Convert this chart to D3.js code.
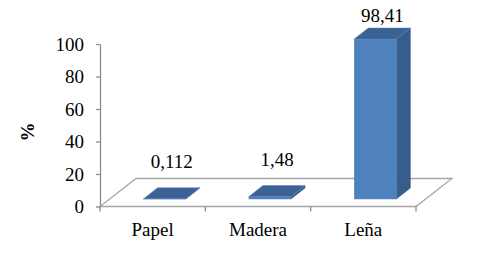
<!DOCTYPE html>
<html><head><meta charset="utf-8">
<script src="https://cdn.jsdelivr.net/npm/d3@7"></script>
<style>
html,body{margin:0;padding:0;background:#fff;}
svg{display:block;}
</style></head>
<body>
<svg id="c" width="486" height="259"></svg>
<script>
const categories = ["Papel", "Madera", "Leña"];
const values = [0.112, 1.48, 98.41];
const valueLabels = ["0,112", "1,48", "98,41"];
const yTicks = [0, 20, 40, 60, 80, 100];

const FONT = '"Liberation Serif"';
const FS = 19;
const svg = d3.select("#c");
const x0 = 100, x1 = 416, yBase = 206.5, yTop = 44;
const depth = {dx: 36, dy: -28};
const barFront = {dx: 12, dy: -7.5};
const barDepth = {dx: 14, dy: -11};

const x = d3.scaleBand().domain(categories).range([x0, x1]).paddingInner(0.6).paddingOuter(0.3);
const y = d3.scaleLinear().domain([0, 100]).range([yBase, yTop]);

// floor
svg.append("path")
  .attr("d", `M${x0},${yBase}L${x1},${yBase}L${x1+depth.dx},${yBase+depth.dy}L${x0+depth.dx},${yBase+depth.dy}Z`)
  .attr("fill", "#fff").attr("stroke", "#a6a6a6").attr("stroke-width", 1.3);

// y axis
const yAxis = svg.append("g").attr("transform", `translate(${x0},0)`)
  .call(d3.axisLeft(y).tickValues(yTicks).tickSize(4).tickSizeOuter(0).tickPadding(12));
yAxis.attr("font-family", null);
yAxis.select(".domain").attr("stroke", "#8c8c8c").attr("stroke-width", 1.3);
yAxis.selectAll(".tick line").attr("stroke", "#8c8c8c").attr("stroke-width", 1.3);
yAxis.selectAll(".tick text").attr("font-size", FS).style("font-family", FONT).attr("fill", "#000");

// x axis ticks at boundaries
const bounds = d3.range(categories.length + 1).map(i => x0 + i * (x1 - x0) / categories.length);
svg.append("g").selectAll("line").data(bounds).join("line")
  .attr("x1", d => d).attr("x2", d => d).attr("y1", yBase).attr("y2", yBase + 5)
  .attr("stroke", "#8c8c8c").attr("stroke-width", 1.3);

svg.append("g").selectAll("text").data(categories).join("text")
  .attr("x", d => x(d) + x.bandwidth() / 2)
  .attr("y", 236)
  .attr("text-anchor", "middle").attr("font-size", FS).style("font-family", FONT).text(d => d);

// bars
const bw = x.bandwidth();
const g = svg.append("g");
categories.forEach((c, i) => {
  const v = values[i];
  const fx = x(c) + barFront.dx;
  const fb = yBase + barFront.dy;
  const ft = y(v) + barFront.dy;
  const dx = barDepth.dx, dy = barDepth.dy;
  g.append("path").attr("d", `M${fx+bw},${fb}L${fx+bw+dx},${fb+dy}L${fx+bw+dx},${ft+dy}L${fx+bw},${ft}Z`)
    .attr("fill", "#385d8a").attr("stroke", "#385d8a").attr("stroke-width", 0.5);
  g.append("rect").attr("x", fx).attr("y", ft).attr("width", bw).attr("height", Math.max(0, fb - ft))
    .attr("fill", "#4f81bd").attr("stroke", "#4f81bd").attr("stroke-width", 0.5);
  g.append("path").attr("d", `M${fx},${ft}L${fx+bw},${ft}L${fx+bw+dx},${ft+dy}L${fx+dx},${ft+dy}Z`)
    .attr("fill", "#3b6195").attr("stroke", "#5b85bb").attr("stroke-width", 0.6);
  g.append("text")
    .attr("x", fx + bw / 2 + dx / 2)
    .attr("y", Math.max(22, ft + dy - 20))
    .attr("text-anchor", "middle").attr("font-size", FS).style("font-family", FONT).text(valueLabels[i]);
});

// y label
svg.append("text").attr("transform", "translate(34,132) rotate(-90)")
  .attr("text-anchor", "middle").attr("font-size", FS).attr("font-weight", "bold")
  .style("font-family", FONT).text("%");
</script>
</body></html>
